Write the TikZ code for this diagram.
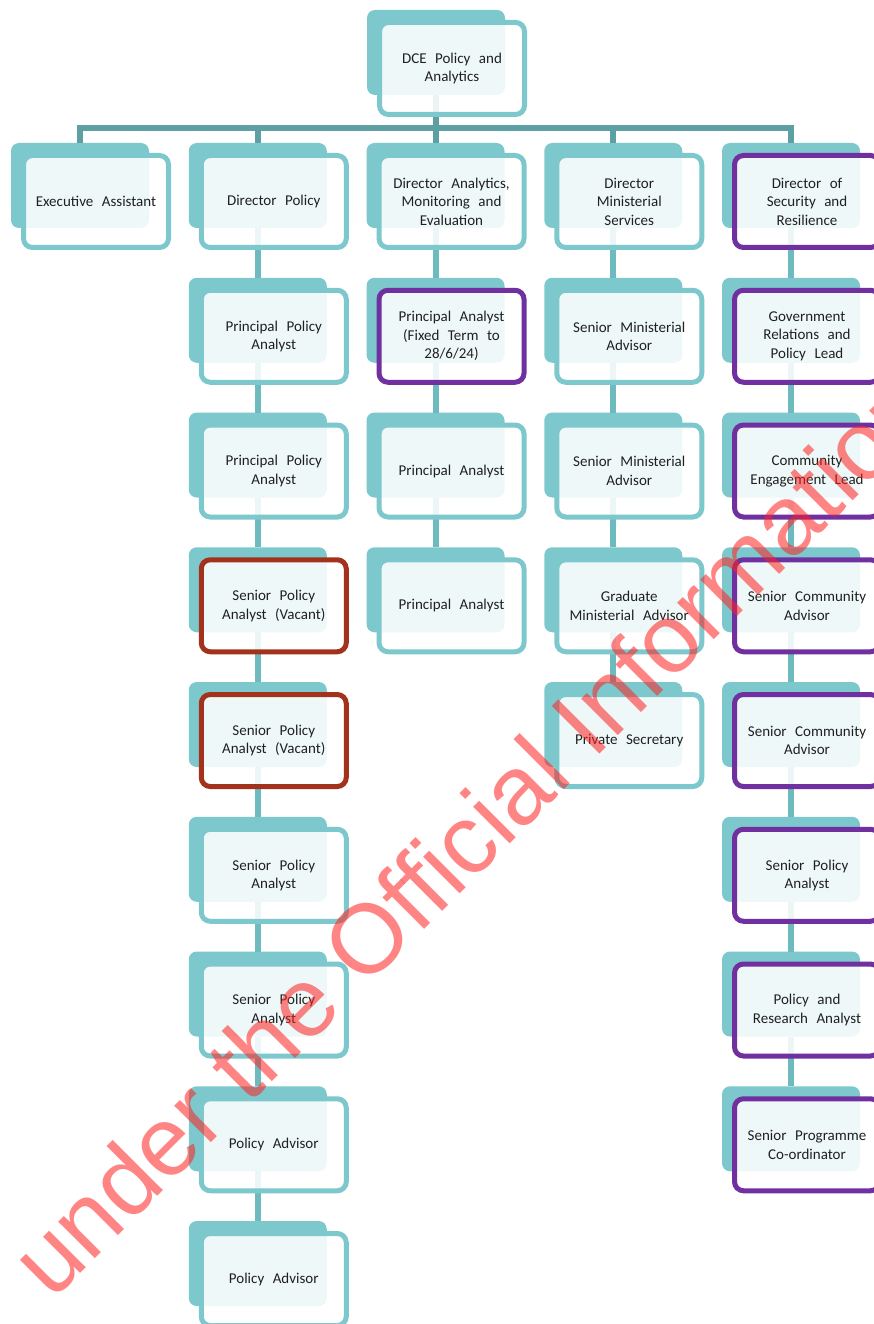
\documentclass[tikz,border=0pt]{standalone}
\usepackage{fontspec}
\setmainfont{Carlito}[WordSpace=2.5]
\newfontfamily\wmfont{Liberation Sans}
\definecolor{tealA}{HTML}{7DC8CD}
\definecolor{busC}{HTML}{5E9FA4}
\definecolor{connC}{HTML}{6DBABF}
\definecolor{purp}{HTML}{7030A0}
\definecolor{vacC}{HTML}{A3321C}
\definecolor{txtC}{HTML}{202020}
\definecolor{wmC}{HTML}{FF2020}
\pgfdeclarelayer{paper}
\pgfdeclarelayer{bg}
\pgfdeclarelayer{mid}
\pgfdeclarelayer{top}
\pgfsetlayers{paper,bg,mid,main,top}
\tikzset{
  backbox/.style={draw=none, fill=tealA, rounded corners=8pt, minimum width=138pt,
    minimum height=85pt, inner sep=0pt, outer sep=0pt, anchor=north west},
  frontbox/.style={fill=white, fill opacity=0.88, text opacity=1, draw=tealA, draw opacity=1,
    line width=5pt, rounded corners=9pt, minimum width=145pt, minimum height=92pt,
    inner sep=0pt, anchor=north west, align=center, text=txtC,
    font=\fontsize{15}{18.5}\selectfont},
  purplebox/.style={draw=purp},
  vacantbox/.style={draw=vacC},
  plainbox/.style={},
  busline/.style={draw=busC, line width=6pt},
  connline/.style={draw=connC, line width=6pt},
  watermark/.style={anchor=base west, rotate=45, text=wmC, text opacity=0.55,
    font=\wmfont\fontsize{98}{98}\selectfont, inner sep=0pt}
}
\newcommand\orgbox[5]{%
  \begin{pgfonlayer}{bg}\node[backbox] (b#1) at ({#2},{#3}) {};\end{pgfonlayer}
  \node[frontbox,#4] (f#1) at ({#2+10},{#3+10}) {#5};}
\newcommand\cellbox[5]{\orgbox{#1}{11+177.75*(#2-1)}{143+134.75*#3}{#4}{#5}}
\begin{document}
\begin{tikzpicture}[x=1pt,y=-1pt]
\useasboundingbox (0,0) rectangle (873,1324);
\begin{pgfonlayer}{paper}\fill[white] (0,0) rectangle (873,1324);\end{pgfonlayer}

\orgbox{dce}{367}{10}{plainbox}{DCE Policy and\\Analytics}

\cellbox{1-0}{1}{0}{plainbox}{Executive Assistant}

\cellbox{2-0}{2}{0}{plainbox}{Director Policy}
\cellbox{2-1}{2}{1}{plainbox}{Principal Policy\\Analyst}
\cellbox{2-2}{2}{2}{plainbox}{Principal Policy\\Analyst}
\cellbox{2-3}{2}{3}{vacantbox}{Senior Policy\\Analyst (Vacant)}
\cellbox{2-4}{2}{4}{vacantbox}{Senior Policy\\Analyst (Vacant)}
\cellbox{2-5}{2}{5}{plainbox}{Senior Policy\\Analyst}
\cellbox{2-6}{2}{6}{plainbox}{Senior Policy\\Analyst}
\cellbox{2-7}{2}{7}{plainbox}{Policy Advisor}
\cellbox{2-8}{2}{8}{plainbox}{Policy Advisor}

\cellbox{3-0}{3}{0}{plainbox}{Director Analytics,\\Monitoring and\\Evaluation}
\cellbox{3-1}{3}{1}{purplebox}{Principal Analyst\\(Fixed Term to\\28/6/24)}
\cellbox{3-2}{3}{2}{plainbox}{Principal Analyst}
\cellbox{3-3}{3}{3}{plainbox}{Principal Analyst}

\cellbox{4-0}{4}{0}{plainbox}{Director\\Ministerial\\Services}
\cellbox{4-1}{4}{1}{plainbox}{Senior Ministerial\\Advisor}
\cellbox{4-2}{4}{2}{plainbox}{Senior Ministerial\\Advisor}
\cellbox{4-3}{4}{3}{plainbox}{Graduate\\Ministerial Advisor}
\cellbox{4-4}{4}{4}{plainbox}{Private Secretary}

\cellbox{5-0}{5}{0}{purplebox}{Director of\\Security and\\Resilience}
\cellbox{5-1}{5}{1}{purplebox}{Government\\Relations and\\Policy Lead}
\cellbox{5-2}{5}{2}{purplebox}{Community\\Engagement Lead}
\cellbox{5-3}{5}{3}{purplebox}{Senior Community\\Advisor}
\cellbox{5-4}{5}{4}{purplebox}{Senior Community\\Advisor}
\cellbox{5-5}{5}{5}{purplebox}{Senior Policy\\Analyst}
\cellbox{5-6}{5}{6}{purplebox}{Policy and\\Research Analyst}
\cellbox{5-7}{5}{7}{purplebox}{Senior Programme\\Co-ordinator}

\begin{pgfonlayer}{mid}
  \coordinate (bus) at (0,128);
  \draw[busline] (bdce.south) -- (bdce.south |- bus);
  \draw[busline] ([xshift=-3pt]b1-0.north |- bus) -- ([xshift=3pt]b5-0.north |- bus);
  \foreach \c in {1,...,5} {\draw[busline] (b\c-0.north |- bus) -- (b\c-0.north);}
  \foreach \r [evaluate=\r as \n using int(\r+1)] in {0,...,7} {\draw[connline] (b2-\r.south) -- (b2-\n.north);}
  \foreach \r [evaluate=\r as \n using int(\r+1)] in {0,...,2} {\draw[connline] (b3-\r.south) -- (b3-\n.north);}
  \foreach \r [evaluate=\r as \n using int(\r+1)] in {0,...,3} {\draw[connline] (b4-\r.south) -- (b4-\n.north);}
  \foreach \r [evaluate=\r as \n using int(\r+1)] in {0,...,6} {\draw[connline] (b5-\r.south) -- (b5-\n.north);}
\end{pgfonlayer}

\begin{pgfonlayer}{top}
  \node[watermark] (wm) at (52,1302) {under the Official Information};
\end{pgfonlayer}
\end{tikzpicture}
\end{document}
